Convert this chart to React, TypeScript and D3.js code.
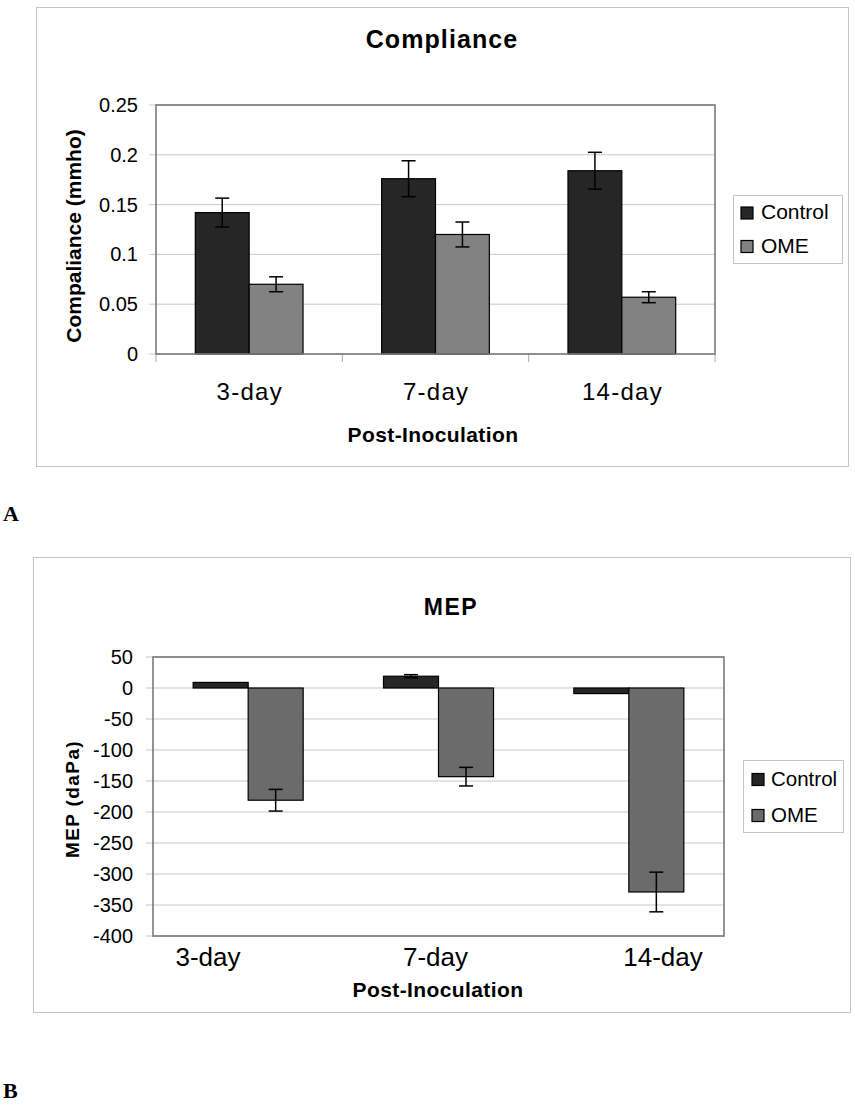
import React from "react";
import * as d3 from "d3";

const categories = ["3-day", "7-day", "14-day"];
const seriesNames = ["Control", "OME"];

const complianceControl = [0.142, 0.176, 0.184];
const complianceControlErr = [0.0145, 0.018, 0.0185];
const complianceOME = [0.07, 0.12, 0.057];
const complianceOMEErr = [0.0075, 0.0125, 0.0055];
const complianceTicks = [0, 0.05, 0.1, 0.15, 0.2, 0.25];
const complianceTickLabels = ["0", "0.05", "0.1", "0.15", "0.2", "0.25"];

const mepControl = [9, 19, -9];
const mepControlErr = [0, 2.5, 0];
const mepOME = [-181, -143, -329];
const mepOMEErr = [17.5, 15, 32];
const mepTicks = [50, 0, -50, -100, -150, -200, -250, -300, -350, -400];

const FONT = "'Liberation Sans', Arial, sans-serif";

type PanelProps = {
  outer: { x: number; y: number; w: number; h: number };
  plot: { l: number; t: number; r: number; b: number };
  domain: [number, number];
  ticks: number[];
  tickLabels: string[];
  tickRight: number;
  series: { values: number[]; errs: number[]; color: string }[];
  title: string;
  titleX: number;
  titleY: number;
  titleSize: number;
  titleSpacing: number;
  yLabel: string;
  yLabelX: number;
  yLabelY: number;
  yLabelSize: number;
  yLabelSpacing: number;
  xLabelRange: [number, number] | null;
  xLabelY: number;
  xLabelSize: number;
  xLabelSpacing: number;
  xTitleX: number;
  xTitleY: number;
  xTicks: boolean;
  legend: { x: number; y: number; w: number; h: number; sx: number; sy: number[]; tx: number; size: number };
};

function Panel(p: PanelProps) {
  const y = d3.scaleLinear().domain(p.domain).range([p.plot.b, p.plot.t]);
  const x0 = d3.scaleBand<string>().domain(categories).range([p.plot.l, p.plot.r]).padding(0);
  const x1 = d3
    .scaleBand<string>()
    .domain(seriesNames)
    .range([0, x0.bandwidth()])
    .paddingInner(0)
    .paddingOuter(0.73);
  const xl = p.xLabelRange
    ? d3.scalePoint<string>().domain(categories).range(p.xLabelRange)
    : null;
  const labelX = (c: string) => (xl ? (xl(c) as number) : (x0(c) as number) + x0.bandwidth() / 2);
  const zeroY = y(Math.max(0, p.domain[0]));
  return (
    <g>
      <rect x={p.outer.x + 0.5} y={p.outer.y + 0.5} width={p.outer.w} height={p.outer.h} fill="#fff" stroke="#c4c4c4" strokeWidth={1} />
      <text x={p.titleX} y={p.titleY} textAnchor="middle" fontFamily={FONT} fontWeight="bold" fontSize={p.titleSize} letterSpacing={p.titleSpacing} fill="#000">
        {p.title}
      </text>
      {/* gridlines */}
      {p.ticks.map((t) => (
        <line key={"g" + t} x1={p.plot.l - 7} x2={p.plot.r} y1={y(t)} y2={y(t)} stroke="#c9c9c9" strokeWidth={1} />
      ))}
      {/* tick labels */}
      {p.ticks.map((t, i) => (
        <text key={"t" + t} x={p.tickRight} y={y(t) + 7} textAnchor="end" fontFamily={FONT} fontSize={20} fill="#000">
          {p.tickLabels[i]}
        </text>
      ))}
      {/* x category ticks */}
      {p.xTicks &&
        [...categories.map((c) => x0(c) as number), p.plot.r].map((xx, i) => (
          <line key={"xt" + i} x1={xx} x2={xx} y1={p.plot.b} y2={p.plot.b + 8} stroke="#aaa" strokeWidth={1} />
        ))}
      {/* bars */}
      {categories.map((c, ci) => (
        <g key={c}>
          {p.series.map((s, si) => {
            const bx = (x0(c) as number) + (x1(seriesNames[si]) as number);
            const v = s.values[ci];
            const yv = y(v);
            const top = Math.min(yv, zeroY);
            const h = Math.abs(yv - zeroY);
            return (
              <rect key={si} x={bx} y={top} width={x1.bandwidth()} height={h} fill={s.color} stroke="#000" strokeWidth={1.2} />
            );
          })}
          {p.series.map((s, si) => {
            const e = s.errs[ci];
            if (!e) return null;
            const cx = (x0(c) as number) + (x1(seriesNames[si]) as number) + x1.bandwidth() / 2;
            const v = s.values[ci];
            const y1 = y(v + e);
            const y2 = y(v - e);
            return (
              <g key={"e" + si} stroke="#000" strokeWidth={1.5}>
                <line x1={cx} x2={cx} y1={y1} y2={y2} />
                <line x1={cx - 7} x2={cx + 7} y1={y1} y2={y1} />
                <line x1={cx - 7} x2={cx + 7} y1={y2} y2={y2} />
              </g>
            );
          })}
        </g>
      ))}
      {/* plot border */}
      <rect x={p.plot.l} y={p.plot.t} width={p.plot.r - p.plot.l} height={p.plot.b - p.plot.t} fill="none" stroke="#7a7a7a" strokeWidth={1.6} />
      {/* y label */}
      <text
        transform={`translate(${p.yLabelX},${p.yLabelY}) rotate(-90)`}
        textAnchor="middle"
        fontFamily={FONT}
        fontWeight="bold"
        fontSize={p.yLabelSize}
        letterSpacing={p.yLabelSpacing}
        fill="#000"
      >
        {p.yLabel}
      </text>
      {/* x labels */}
      {categories.map((c) => (
        <text key={"xl" + c} x={labelX(c) + p.xLabelSpacing / 2} y={p.xLabelY} textAnchor="middle" fontFamily={FONT} fontSize={p.xLabelSize} letterSpacing={p.xLabelSpacing} fill="#000">
          {c}
        </text>
      ))}
      <text x={p.xTitleX} y={p.xTitleY} textAnchor="middle" fontFamily={FONT} fontWeight="bold" fontSize={21} letterSpacing={0.4} fill="#000">
        Post-Inoculation
      </text>
      {/* legend */}
      <rect x={p.legend.x + 0.5} y={p.legend.y + 0.5} width={p.legend.w} height={p.legend.h} fill="#fff" stroke="#c4c4c4" strokeWidth={1} />
      {p.series.map((s, si) => (
        <g key={"lg" + si}>
          <rect x={p.legend.sx} y={p.legend.sy[si] - 12} width={12} height={12} fill={s.color} stroke="#000" strokeWidth={1.2} />
          <text x={p.legend.tx} y={p.legend.sy[si]} fontFamily={FONT} fontSize={p.legend.size} fill="#000">
            {seriesNames[si]}
          </text>
        </g>
      ))}
    </g>
  );
}

export default function App() {
  return (
    <svg width={855} height={1110} style={{ position: "absolute", left: 0, top: 0, background: "#fff" }}>
      <rect x={0} y={0} width={855} height={1110} fill="#fff" />
      <Panel
        outer={{ x: 36, y: 7, w: 812, h: 459 }}
        plot={{ l: 156, t: 105, r: 715, b: 354 }}
        domain={[0, 0.25]}
        ticks={complianceTicks}
        tickLabels={complianceTickLabels}
        tickRight={138}
        series={[
          { values: complianceControl, errs: complianceControlErr, color: "#262626" },
          { values: complianceOME, errs: complianceOMEErr, color: "#828282" },
        ]}
        title="Compliance"
        titleX={442}
        titleY={48}
        titleSize={25}
        titleSpacing={1.1}
        yLabel="Compaliance (mmho)"
        yLabelX={81}
        yLabelY={236}
        yLabelSize={21}
        yLabelSpacing={0}
        xLabelRange={null}
        xLabelY={400}
        xLabelSize={24}
        xLabelSpacing={1.3}
        xTitleX={433}
        xTitleY={442}
        xTicks={true}
        legend={{ x: 733, y: 195, w: 109, h: 68, sx: 741, sy: [219, 252.5], tx: 761, size: 21 }}
      />
      <Panel
        outer={{ x: 33, y: 557, w: 817, h: 455 }}
        plot={{ l: 153, t: 657, r: 724, b: 936 }}
        domain={[-400, 50]}
        ticks={mepTicks}
        tickLabels={mepTicks.map(String)}
        tickRight={133}
        series={[
          { values: mepControl, errs: mepControlErr, color: "#262626" },
          { values: mepOME, errs: mepOMEErr, color: "#6b6b6b" },
        ]}
        title="MEP"
        titleX={451}
        titleY={615}
        titleSize={23}
        titleSpacing={1.5}
        yLabel="MEP (daPa)"
        yLabelX={79}
        yLabelY={799}
        yLabelSize={19}
        yLabelSpacing={1.4}
        xLabelRange={[208, 663]}
        xLabelY={966}
        xLabelSize={26}
        xLabelSpacing={0}
        xTitleX={438}
        xTitleY={997}
        xTicks={false}
        legend={{ x: 743, y: 760, w: 100, h: 72, sx: 752, sy: [785.5, 821.5], tx: 771, size: 20.5 }}
      />
      <text x={3} y={521} fontFamily="'Liberation Serif', 'Times New Roman', serif" fontWeight="bold" fontSize={22} fill="#000">
        A
      </text>
      <text x={3} y={1098} fontFamily="'Liberation Serif', 'Times New Roman', serif" fontWeight="bold" fontSize={22} fill="#000">
        B
      </text>
    </svg>
  );
}
